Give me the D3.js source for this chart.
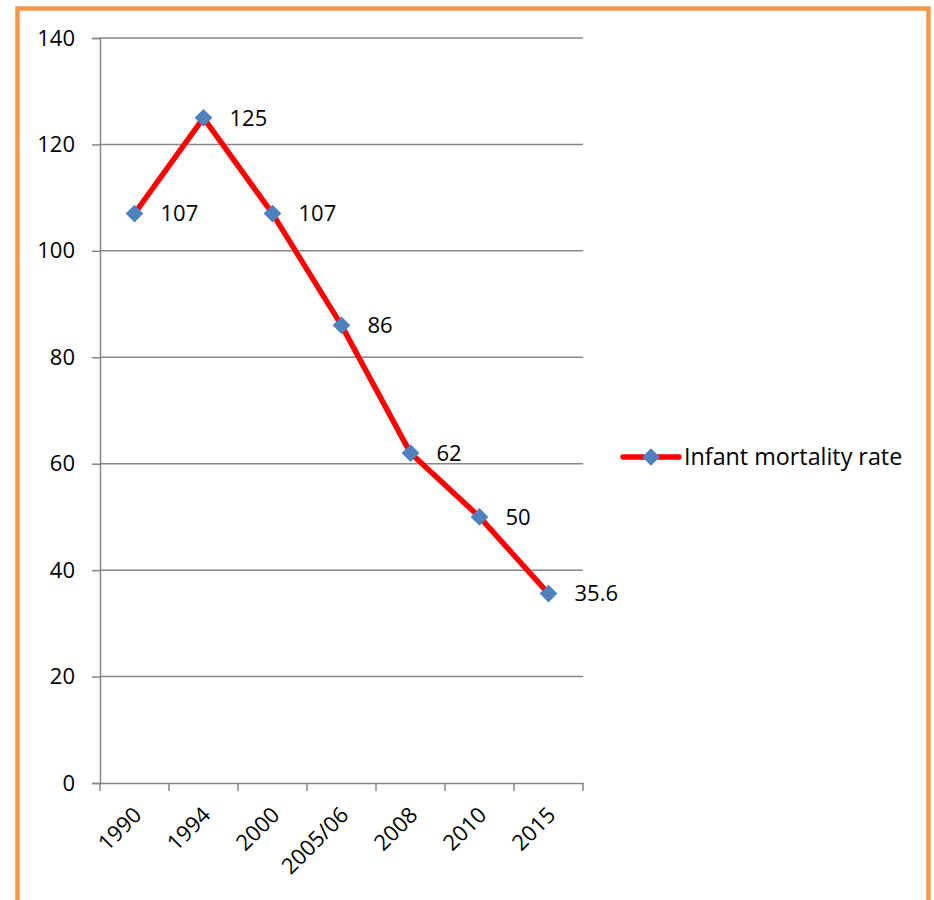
<!DOCTYPE html>
<html><head><meta charset="utf-8">
<script src="https://cdn.jsdelivr.net/npm/d3@7"></script>
<style>body{margin:0;background:#fff;} svg{display:block;}</style>
</head><body>
<svg id="chart" width="934" height="900"></svg>
<script>
const categories = ["1990","1994","2000","2005/06","2008","2010","2015"];
const values = [107,125,107,86,62,50,35.6];
const valueLabels = ["107","125","107","86","62","50","35.6"];
const yTicks = [0,20,40,60,80,100,120,140];
const seriesName = "Infant mortality rate";

const svg = d3.select("#chart");
const font = "'Open Sans', sans-serif";
const fs = 22;

// frame
svg.append("rect").attr("x",17.5).attr("y",8.5).attr("width",911).attr("height",960)
  .attr("fill","none").attr("stroke","#F79646").attr("stroke-width",4.5);

const x = d3.scaleBand().domain(categories).range([100,583]);
const y = d3.scaleLinear().domain([0,140]).range([783,38]);

// gridlines
svg.append("g").selectAll("line").data(yTicks.filter(d=>d>0)).join("line")
  .attr("x1",100).attr("x2",583).attr("y1",d=>y(d)).attr("y2",d=>y(d))
  .attr("stroke","#868686").attr("stroke-width",1.5);

// y axis
const yAxis = svg.append("g").attr("transform","translate(100,0)")
  .call(d3.axisLeft(y).tickValues(yTicks).tickSize(8).tickPadding(17).tickFormat(d3.format("d")));
yAxis.select(".domain").attr("stroke","#868686").attr("stroke-width",1.5);
yAxis.selectAll(".tick line").attr("stroke","#868686").attr("stroke-width",1.5);
yAxis.selectAll("text").attr("font-family",font).attr("font-size",fs).attr("fill","#000");

// x axis
const xAxis = svg.append("g").attr("transform","translate(0,783)")
  .call(d3.axisBottom(x).tickSize(0).tickFormat(""));
xAxis.select(".domain").attr("stroke","#868686").attr("stroke-width",1.5);
xAxis.selectAll(".tick").remove();
const bounds = categories.map(c=>x(c)).concat([x.range()[1]]);
xAxis.append("g").selectAll("line").data(bounds).join("line")
  .attr("x1",d=>d).attr("x2",d=>d).attr("y1",0).attr("y2",8)
  .attr("stroke","#868686").attr("stroke-width",1.5);
xAxis.append("g").selectAll("text").data(categories).join("text")
  .attr("transform",d=>`translate(${x(d)+x.bandwidth()/2+3},${28}) rotate(-45)`)
  .attr("text-anchor","end").attr("dy","0.35em")
  .attr("font-family",font).attr("font-size",fs).attr("fill","#000").text(d=>d);

// line
const pts = categories.map((c,i)=>[x(c)+x.bandwidth()/2, y(values[i])]);
svg.append("path").datum(pts).attr("d",d3.line())
  .attr("fill","none").attr("stroke","#FF0000").attr("stroke-width",5.5).attr("stroke-linejoin","round");

const diamond = d3.symbol().type(d3.symbolDiamond2).size(200);
svg.append("g").selectAll("path").data(pts).join("path")
  .attr("transform",d=>`translate(${d[0]},${d[1]})`).attr("d",diamond).attr("fill","#4F81BD");

// data labels
svg.append("g").selectAll("text").data(pts).join("text")
  .attr("x",d=>d[0]+26).attr("y",d=>d[1]).attr("dy","0.35em")
  .attr("font-family",font).attr("font-size",fs).attr("fill","#000").text((d,i)=>valueLabels[i]);

// legend
const lg = svg.append("g").attr("transform","translate(623,457)");
lg.append("line").attr("x1",0).attr("x2",56).attr("y1",0).attr("y2",0)
  .attr("stroke","#FF0000").attr("stroke-width",5.5).attr("stroke-linecap","round");
lg.append("path").attr("transform","translate(28,0)").attr("d",diamond).attr("fill","#4F81BD");
lg.append("text").attr("x",61).attr("y",0).attr("dy","0.35em")
  .attr("font-family",font).attr("font-size",23.3).attr("fill","#000").text(seriesName);
</script>
</body></html>
